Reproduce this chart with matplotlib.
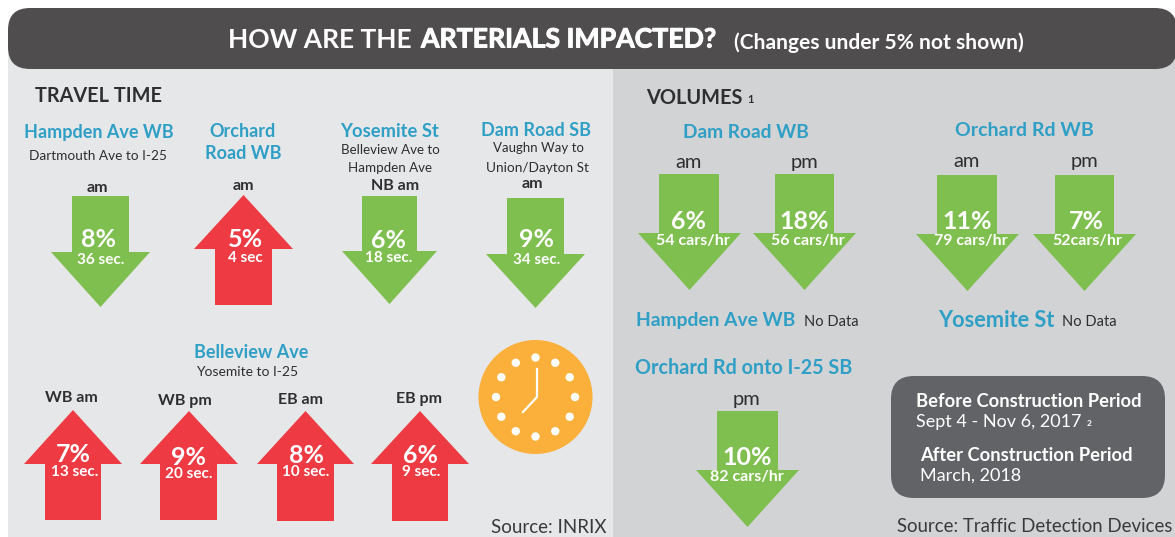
import numpy as np
import matplotlib
matplotlib.use("Agg")
import matplotlib.pyplot as plt
import matplotlib.patheffects as pe
from matplotlib.patches import Polygon, Rectangle, FancyBboxPatch, Circle

plt.rcParams["font.family"] = ["Lato", "DejaVu Sans"]

DARK = "#4f4d4e"
TEAL = "#2f9fc6"
GREEN = "#7fbf4f"
RED = "#ee3b43"
ORANGE = "#fbb03b"
INK = "#2f2e30"

# travel time
tt_pct = ["8%", "5%", "6%", "9%", "7%", "9%", "8%", "6%"]
tt_change = ["36 sec.", "4 sec", "18 sec.", "34 sec.", "13 sec.", "20 sec.", "10 sec.", "9 sec."]
tt_period = ["am", "am", "NB am", "am", "WB am", "WB pm", "EB am", "EB pm"]
tt_dir = ["down", "up", "down", "down", "up", "up", "up", "up"]

# volumes
vol_pct = ["6%", "18%", "11%", "7%", "10%"]
vol_change = ["54 cars/hr", "56 cars/hr", "79 cars/hr", "52cars/hr", "82 cars/hr"]
vol_period = ["am", "pm", "am", "pm", "pm"]

# arrow layout: head left, head right, shaft left, shaft right, tail y, head base y, tip y
tt_boxes = [
    (51, 150, 72, 129, 196, 252, 307),
    (194, 293, 215, 272, 305, 249, 195),
    (342, 437, 362, 417, 196, 251, 304),
    (486, 585, 507, 564, 198, 254, 308),
    (24, 122, 45, 101, 520, 464, 410),
    (140, 238, 160, 217, 520, 464, 411),
    (257, 354, 277, 334, 521, 464, 411),
    (371, 469, 392, 448, 521, 464, 411),
]
vol_boxes = [
    (638, 741, 659, 719, 174, 233, 290),
    (753, 856, 775, 834, 174, 233, 290),
    (916, 1019, 937, 997, 175, 234, 291),
    (1033, 1136, 1055, 1114, 175, 234, 291),
    (696, 799, 717, 778, 411, 470, 527),
]
# text anchors: period label, percent, change (x, y)
tt_text = [
    ((97, 187), (99, 239), (101, 259)),
    ((243, 186), (245, 239), (245, 258)),
    ((395, 185), (389, 240), (389, 258)),
    ((532, 184), (537, 239), (537, 259)),
    ((71, 398), (73, 454), (75, 472)),
    ((185, 400), (189, 457), (189, 474)),
    ((301, 399), (306, 455), (306, 472)),
    ((419, 399), (421, 455), (421, 472)),
]
vol_text = [
    ((689, 162), (689, 221), (693, 240)),
    ((805, 162), (804, 221), (808, 240)),
    ((967, 161), (967, 221), (971, 241)),
    ((1084, 161), (1086, 221), (1087, 241)),
    ((746, 399), (747, 457), (747, 477)),
]


def draw_arrow(ax, box, color):
    hl, hr, sl, sr, tail, base, tip = box
    pts = [(sl, tail), (sr, tail), (sr, base), (hr, base),
           ((hl + hr) / 2, tip), (hl, base), (sl, base)]
    ax.add_patch(Polygon(pts, closed=True, fc=color, ec="none", zorder=3))


def label(ax, x, y, s, size, color=INK, weight="normal", ha="center", **kw):
    # lato sits a little high when centred
    return ax.text(x, y + 1.5, s, fontsize=size, color=color, fontweight=weight,
                   ha=ha, va="center", zorder=5, **kw)


fig = plt.figure(figsize=(11.75, 5.37), dpi=100, facecolor="white")
ax = fig.add_axes([0, 0, 1, 1])
ax.set_xlim(0, 1175)
ax.set_ylim(537, 0)
ax.axis("off")

# panels and header band
ax.add_patch(Rectangle((8, 40), 605, 497, fc="#e6e7e8", ec="none", zorder=1))
ax.add_patch(Rectangle((613, 40), 562, 497, fc="#d1d3d4", ec="none", zorder=1))
ax.add_patch(FancyBboxPatch((30, 30), 1125, 17, boxstyle="round,pad=22,rounding_size=22",
                            fc=DARK, ec="none", zorder=2))

label(ax, 228, 38, "HOW ARE THE", 19, "white", "bold", ha="left")
t = label(ax, 421, 38, "ARTERIALS IMPACTED?", 19.2, "white", "bold", ha="left")
t.set_path_effects([pe.withStroke(linewidth=0.7, foreground="white")])
label(ax, 734, 41, "(Changes under 5% not shown)", 15.1, "white", "bold", ha="left")

label(ax, 35, 94, "TRAVEL TIME", 14.3, INK, "bold", ha="left")
label(ax, 646, 96, "VOLUMES", 14.4, INK, "bold", ha="left")
label(ax, 747, 98, "1", 8, INK, "bold", ha="left")

# road names
label(ax, 99, 131, "Hampden Ave WB", 13, TEAL, "bold")
label(ax, 242, 130, "Orchard", 13, TEAL, "bold")
label(ax, 243, 152, "Road WB", 13, TEAL, "bold")
label(ax, 390, 130, "Yosemite St", 13.2, TEAL, "bold")
label(ax, 536, 129, "Dam Road SB", 13, TEAL, "bold")
label(ax, 251, 351, "Belleview Ave", 13, TEAL, "bold")
label(ax, 746, 131, "Dam Road WB", 13.8, TEAL, "bold")
label(ax, 1024, 129, "Orchard Rd WB", 14, TEAL, "bold")
label(ax, 636, 319, "Hampden Ave WB", 13.9, TEAL, "bold", ha="left")
label(ax, 938, 319, "Yosemite St", 15.7, TEAL, "bold", ha="left")
label(ax, 635, 367, "Orchard Rd onto I-25 SB", 14.2, TEAL, "bold", ha="left")

# road extents
label(ax, 98, 154, "Dartmouth Ave to I-25", 9.8)
label(ax, 390, 149, "Belleview Ave to", 9.6)
label(ax, 390, 167, "Hampden Ave", 9.6)
label(ax, 538, 146, "Vaughn Way to", 9.5)
label(ax, 537, 166, "Union/Dayton St", 9.8)
label(ax, 247, 370, "Yosemite to I-25", 10)
label(ax, 804, 321, "No Data", 10.5, ha="left")
label(ax, 1062, 321, "No Data", 10.5, ha="left")

# arrows
for i, box in enumerate(tt_boxes):
    draw_arrow(ax, box, GREEN if tt_dir[i] == "down" else RED)
    p, v, c = tt_text[i]
    label(ax, p[0], p[1] - 1, tt_period[i], 11.5, INK, "bold")
    label(ax, v[0], v[1] - 1, tt_pct[i], 18, "white", "bold")
    label(ax, c[0], c[1] - 1, tt_change[i], 11, "white", "bold")

for i, box in enumerate(vol_boxes):
    draw_arrow(ax, box, GREEN)
    p, v, c = vol_text[i]
    label(ax, p[0], p[1] - 1, vol_period[i], 14.5)
    label(ax, v[0], v[1] - 1, vol_pct[i], 18, "white", "bold")
    label(ax, c[0], c[1] - 1, vol_change[i], 11.5, "white", "bold")

# clock
ax.add_patch(Circle((535.5, 397), 57, fc=ORANGE, ec="none", zorder=3))
for h in range(12):
    a = np.deg2rad(h * 30)
    ax.add_patch(Circle((535.5 + 39.5 * np.sin(a), 397 - 39.5 * np.cos(a)), 4.2,
                        fc="white", ec="none", zorder=4))
ax.plot([537, 537, 523], [369, 397, 412], color="white", lw=1.6, zorder=4)

# construction period box
ax.add_patch(FancyBboxPatch((914, 399), 228, 76, boxstyle="round,pad=23,rounding_size=23",
                            fc="#616366", ec="none", zorder=2))
label(ax, 916, 400, "Before Construction Period", 13.2, "white", "bold", ha="left")
label(ax, 916, 420, "Sept 4 - Nov 6, 2017", 13, "white", ha="left")
label(ax, 1087, 422, "2", 6, "white", "bold", ha="left")
label(ax, 920, 454, "After Construction Period", 13.2, "white", "bold", ha="left")
label(ax, 920, 474, "March, 2018", 13, "white", ha="left")

# sources
label(ax, 491, 526, "Source: INRIX", 13.5, "#3a3a3c", ha="left")
label(ax, 897, 525, "Source: Traffic Detection Devices", 13.4, "#3a3a3c", ha="left")

fig.savefig("out.png", dpi=100)
